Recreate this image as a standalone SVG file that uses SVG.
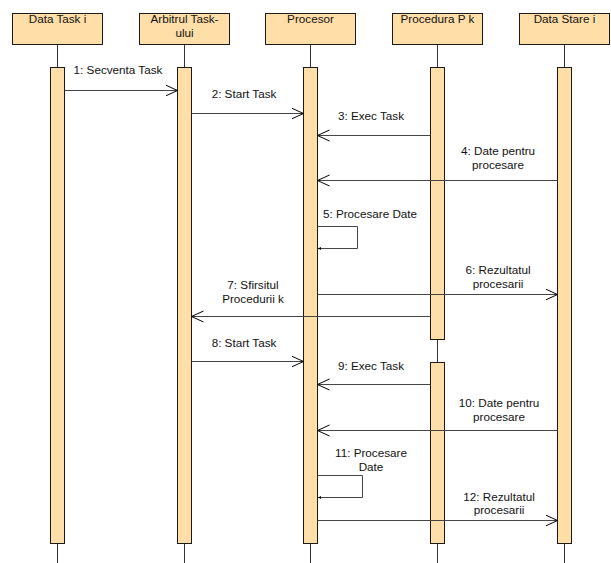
<svg xmlns="http://www.w3.org/2000/svg" width="611" height="563" viewBox="0 0 611 563">
  <style>
    .head { fill: #FFDEA8; stroke: #1a1a1a; stroke-width: 1; }
    .bar { fill: #FFDEA8; stroke: #1a1a1a; stroke-width: 1; }
    .life { stroke: #333; stroke-width: 1; fill: none; }
    .msg { stroke: #444; stroke-width: 1; fill: none; }
    text { font-family: "Liberation Sans", Arial, sans-serif; font-size: 11.7px; fill: #111; text-anchor: middle; }
  </style>
  <defs>
    <marker id="open" markerUnits="userSpaceOnUse" markerWidth="14" markerHeight="14" refX="12" refY="6" orient="auto">
      <path d="M0,0.5 L12,6 L0,11.5" fill="none" stroke="#000" stroke-width="1"/>
    </marker>
    <marker id="small" markerUnits="userSpaceOnUse" markerWidth="5" markerHeight="5" refX="3" refY="2" orient="auto">
      <path d="M0,0.5 L3,2 L0,3.5 Z" fill="#000"/>
    </marker>
  </defs>
  <rect width="611" height="563" fill="#fff"/>

  <!-- lifelines -->
  <g id="lifelines">
    <line class="life" x1="57.5" y1="44" x2="57.5" y2="563"/>
    <line class="life" x1="184.5" y1="44" x2="184.5" y2="563"/>
    <line class="life" x1="310.5" y1="44" x2="310.5" y2="563"/>
    <line class="life" x1="437.5" y1="44" x2="437.5" y2="563"/>
    <line class="life" x1="564.5" y1="44" x2="564.5" y2="563"/>
  </g>

  <g id="data-task">
    <rect class="head" x="12.5" y="13.5" width="90" height="31"/>
    <text x="57.5" y="23">Data Task i</text>
    <rect class="bar" x="50.5" y="67.5" width="14" height="476"/>
  </g>
  <g id="arbitru">
    <rect class="head" x="139.5" y="13.5" width="90" height="31"/>
    <text x="184.5" y="23">Arbitrul Task-</text>
    <text x="184.5" y="36.5">ului</text>
    <rect class="bar" x="177.5" y="67.5" width="14" height="476"/>
  </g>
  <g id="procesor">
    <rect class="head" x="265.5" y="13.5" width="90" height="31"/>
    <text x="310.5" y="23">Procesor</text>
    <rect class="bar" x="303.5" y="67.5" width="14" height="476"/>
  </g>
  <g id="procedura">
    <rect class="head" x="392.5" y="13.5" width="90" height="31"/>
    <text x="437.5" y="23">Procedura P k</text>
    <rect class="bar" x="430.5" y="67.5" width="14" height="272"/>
    <rect class="bar" x="430.5" y="362.5" width="14" height="181"/>
  </g>
  <g id="data-stare">
    <rect class="head" x="519.5" y="13.5" width="90" height="31"/>
    <text x="564.5" y="23">Data Stare i</text>
    <rect class="bar" x="557.5" y="67.5" width="14" height="476"/>
  </g>

  <!-- messages -->
  <g id="connectors">
    <line class="msg" x1="64.5" y1="90.5" x2="177.5" y2="90.5" marker-end="url(#open)"/>
    <line class="msg" x1="191.5" y1="113.5" x2="303.5" y2="113.5" marker-end="url(#open)"/>
    <line class="msg" x1="430.5" y1="135.5" x2="317.5" y2="135.5" marker-end="url(#open)"/>
    <line class="msg" x1="557.5" y1="180.5" x2="317.5" y2="180.5" marker-end="url(#open)"/>
    <polyline class="msg" points="317.5,226.5 357.5,226.5 357.5,248.5 318,248.5" marker-end="url(#small)"/>
    <line class="msg" x1="317.5" y1="294.5" x2="557.5" y2="294.5" marker-end="url(#open)"/>
    <line class="msg" x1="430.5" y1="316.5" x2="191.5" y2="316.5" marker-end="url(#open)"/>
    <line class="msg" x1="191.5" y1="361.5" x2="303.5" y2="361.5" marker-end="url(#open)"/>
    <line class="msg" x1="430.5" y1="384.5" x2="317.5" y2="384.5" marker-end="url(#open)"/>
    <line class="msg" x1="557.5" y1="430.5" x2="317.5" y2="430.5" marker-end="url(#open)"/>
    <polyline class="msg" points="317.5,475.5 362.5,475.5 362.5,497.5 318,497.5" marker-end="url(#small)"/>
    <line class="msg" x1="317.5" y1="520.5" x2="557.5" y2="520.5" marker-end="url(#open)"/>
  </g>

  <g id="labels">
    <text x="118" y="74">1: Secventa Task</text>
    <text x="244" y="98">2: Start Task</text>
    <text x="371" y="120">3: Exec Task</text>
    <text x="498" y="155">4: Date pentru</text>
    <text x="498" y="169">procesare</text>
    <text x="370" y="218">5: Procesare Date</text>
    <text x="498" y="274">6: Rezultatul</text>
    <text x="498" y="288">procesarii</text>
    <text x="253" y="289">7: Sfirsitul</text>
    <text x="253" y="303">Procedurii k</text>
    <text x="244" y="347">8: Start Task</text>
    <text x="371" y="370">9: Exec Task</text>
    <text x="499" y="407">10: Date pentru</text>
    <text x="499" y="421">procesare</text>
    <text x="371" y="457">11: Procesare</text>
    <text x="371" y="471">Date</text>
    <text x="499" y="501">12: Rezultatul</text>
    <text x="499" y="514">procesarii</text>
  </g>
</svg>
